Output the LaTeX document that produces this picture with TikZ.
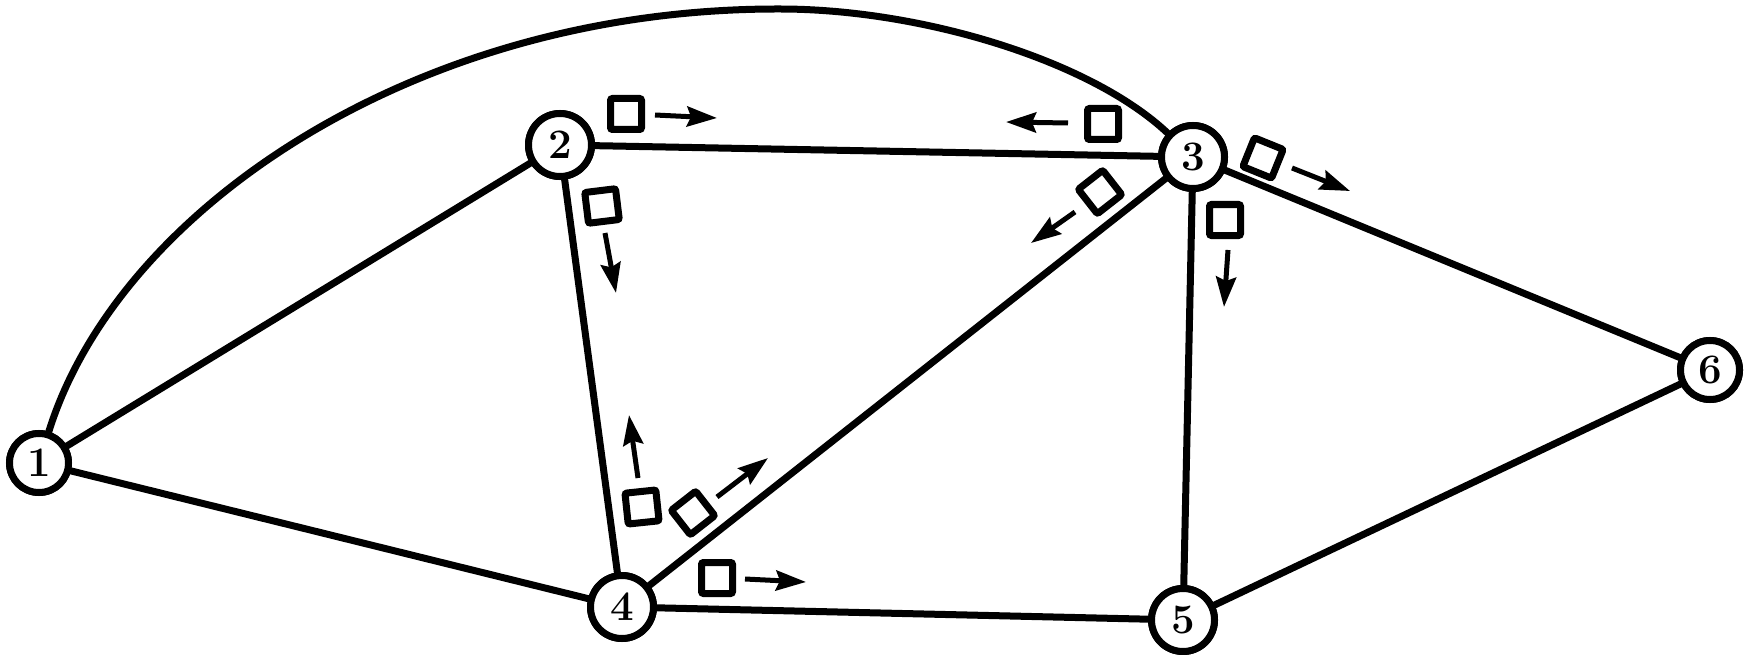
\documentclass[tikz,border=0pt]{standalone}
\usepackage{fontspec}
\usetikzlibrary{arrows.meta}
\begin{document}
\begin{tikzpicture}[x=1pt,y=-1pt,
  vert/.style={circle,draw,line width=7pt,minimum size=63pt,inner sep=0pt,fill=white,font=\fontsize{42}{42}\selectfont\bfseries},
  svert/.style={vert,minimum size=59pt},
  edge/.style={line width=7pt,line cap=round},
  pkt/.style={rectangle,draw,line width=7pt,minimum size=31pt,inner sep=0pt,rounded corners=2pt},
  mv/.style={line width=5pt,-{Stealth[length=30pt,width=20pt,inset=4pt]}}]
\useasboundingbox (0,0) rectangle (1747,655);
% vertices
\node[svert] (n1) at (39,463) {1};
\node[vert] (n2) at (560,145) {2};
\node[vert] (n3) at (1193,157) {3};
\node[vert] (n4) at (622,607) {4};
\node[vert] (n5) at (1183,620) {5};
\node[svert] (n6) at (1710,370) {6};
\coordinate (top) at (780,9);
% edges
\draw[edge] (n1) -- (n2);
\draw[edge] (n1) -- (n4);
\draw[edge] (n1) .. controls (118,210) and (415,8) .. (top) .. controls (920,9) and (1090,60) .. (n3);
\draw[edge] (n2) -- (n3);
\draw[edge] (n2) -- (n4);
\draw[edge] (n3) -- (n4);
\draw[edge] (n3) -- (n5);
\draw[edge] (n3) -- (n6);
\draw[edge] (n4) -- (n5);
\draw[edge] (n5) -- (n6);
% redraw vertices over edge ends
\node[svert] at (n1) {1};
\node[vert] at (n2) {2};
\node[vert] at (n3) {3};
\node[vert] at (n4) {4};
\node[vert] at (n5) {5};
\node[svert] at (n6) {6};
% packets
\node[pkt] (q23) at (626,114) {};
\node[pkt,rotate=7] (q24) at (602,206) {};
\node[pkt] (q32) at (1103,124) {};
\node[pkt,rotate=38] (q34) at (1100,192) {};
\node[pkt,rotate=-22] (q36) at (1263,158) {};
\node[pkt] (q35) at (1225,220) {};
\node[pkt,rotate=6] (q42) at (642,507) {};
\node[pkt,rotate=38] (q43) at (693,513) {};
\node[pkt] (q45) at (717,578) {};
% arrow ends
\coordinate (a1s) at (655,115); \coordinate (a1e) at (717,118);
\coordinate (a2s) at (605,233); \coordinate (a2e) at (616,293);
\coordinate (a3s) at (1068,123); \coordinate (a3e) at (1006,122);
\coordinate (a4s) at (1075,212); \coordinate (a4e) at (1031,243);
\coordinate (a5s) at (1292,168); \coordinate (a5e) at (1350,191);
\coordinate (a6s) at (1228,250); \coordinate (a6e) at (1224,307);
\coordinate (a7s) at (638,478); \coordinate (a7e) at (629,415);
\coordinate (a8s) at (717,497); \coordinate (a8e) at (768,458);
\coordinate (a9s) at (745,579); \coordinate (a9e) at (806,582);
\draw[mv] (a1s) -- (a1e);
\draw[mv] (a2s) -- (a2e);
\draw[mv] (a3s) -- (a3e);
\draw[mv] (a4s) -- (a4e);
\draw[mv] (a5s) -- (a5e);
\draw[mv] (a6s) -- (a6e);
\draw[mv] (a7s) -- (a7e);
\draw[mv] (a8s) -- (a8e);
\draw[mv] (a9s) -- (a9e);
\end{tikzpicture}
\end{document}
